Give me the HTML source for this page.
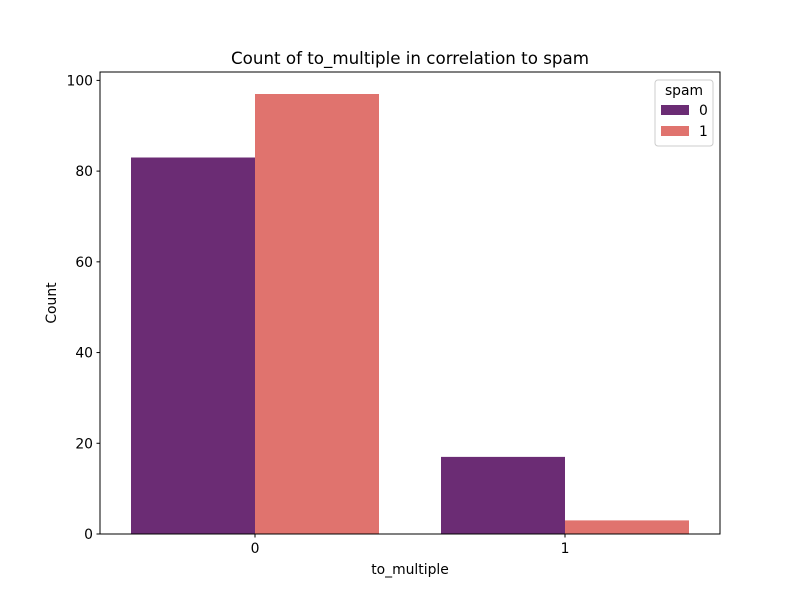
<!DOCTYPE html>
<html><head><meta charset="utf-8"><style>
body{margin:0;background:#fff;}
svg text{font-family:"DejaVu Sans","Liberation Sans",sans-serif;fill:#000;}
</style></head><body>
<svg id="chart" width="800" height="600" xmlns="http://www.w3.org/2000/svg">
<rect width="800" height="600" fill="#fff"/>
<g id="bars"></g>
<g id="axes"></g>
</svg>
<script>
const categories = ["0","1"];
const hues = ["0","1"];
const seriesHue0 = [83, 17];
const seriesHue1 = [97, 3];
const yTicks = [0,20,40,60,80,100];
const colors = ["#6b2c74","#e0736e"];
const L=100,R=720,T=72,B=534,yMax=101.85;
const ns="http://www.w3.org/2000/svg";
const y=v=>B-(v/yMax)*(B-T);
const x=v=>L+(v+0.5)/2*(R-L);
const bars=document.getElementById('bars');
const axes=document.getElementById('axes');
function mk(tag,attrs,parent,text){const e=document.createElementNS(ns,tag);for(const k in attrs)e.setAttribute(k,attrs[k]);if(text!==undefined)e.textContent=text;parent.appendChild(e);return e;}
const series=[seriesHue0,seriesHue1];
series.forEach((s,h)=>{s.forEach((v,i)=>{
  const x0=x(i-0.4+h*0.4),x1=x(i+h*0.4);
  const r=mk('rect',{x:x0,y:y(v),width:x1-x0,height:B-y(v),fill:colors[h]},bars);
  
  
});});
const frame=mk('rect',{x:L,y:T,width:R-L,height:B-T,fill:'none',stroke:'#000','stroke-width':1},axes);


yTicks.forEach(t=>{
  mk('line',{x1:L-3.5,x2:L,y1:y(t),y2:y(t),stroke:'#000'},axes);
  const tx=mk('text',{x:L-7,y:y(t)+5,'text-anchor':'end','font-size':13.9},axes,String(t));
  
  
});
categories.forEach((c,i)=>{
  mk('line',{x1:x(i),x2:x(i),y1:B,y2:B+3.5,stroke:'#000'},axes);
  const tx=mk('text',{x:x(i),y:B+19,'text-anchor':'middle','font-size':13.9},axes,c);
  
  
});
let t;
t=mk('text',{x:410,y:64,'text-anchor':'middle','font-size':16.7},axes,'Count of to_multiple in correlation to spam');

t=mk('text',{x:410,y:574,'text-anchor':'middle','font-size':13.9},axes,'to_multiple');

t=mk('text',{x:56,y:303,'text-anchor':'middle','font-size':13.9,transform:'rotate(-90 56 303)'},axes,'Count');

const lg=mk('g',{},axes);

mk('rect',{x:655,y:80,width:58,height:66,rx:3,fill:'#fff',stroke:'#ccc'},lg);
mk('text',{x:684,y:95,'text-anchor':'middle','font-size':13.9},lg,'spam');
hues.forEach((h,i)=>{
  const r=mk('rect',{x:661,y:105+i*21,width:28,height:10,fill:colors[i]},lg);
  
  const tx=mk('text',{x:699,y:115+i*21,'font-size':13.9},lg,h);
  
});
</script>
</body></html>
